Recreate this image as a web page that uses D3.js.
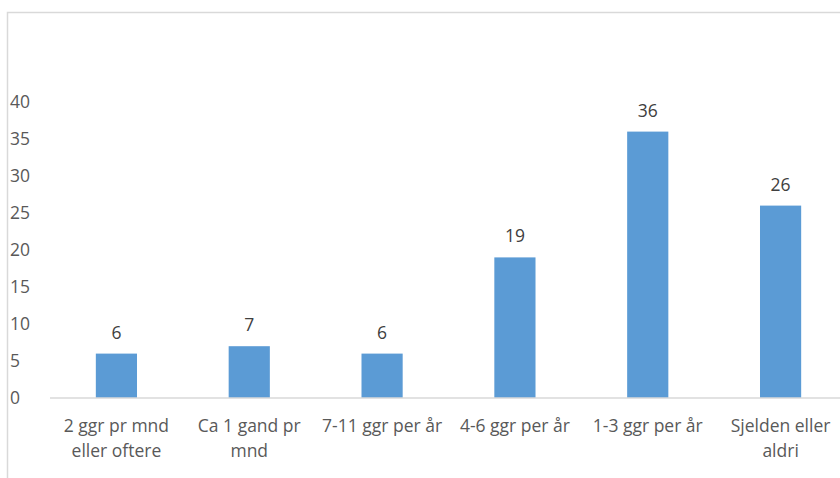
<!DOCTYPE html>
<html>
<head>
<meta charset="utf-8">
<script src="https://cdn.jsdelivr.net/npm/d3@7"></script>
<style>
  html, body { margin: 0; padding: 0; background: #fff; }
  svg { display: block; }
  text { font-family: "Open Sans", "Noto Sans", sans-serif; }
</style>
</head>
<body>
<svg id="chart" width="840" height="478"></svg>
<script>
// Frequency categories and their counts
const categories = [
  "2 ggr pr mnd eller oftere",
  "Ca 1 gand pr mnd",
  "7-11 ggr per år",
  "4-6 ggr per år",
  "1-3 ggr per år",
  "Sjelden eller aldri"
];
const values = [6, 7, 6, 19, 36, 26];
const yTicks = [0, 5, 10, 15, 20, 25, 30, 35, 40];

const W = 840, H = 478;
const margin = { left: 50, right: -7, top: 102, bottom: 80 };
const fontSize = "17.5px";

const svg = d3.select("#chart");

// Chart area frame
svg.append("rect")
  .attr("x", 7.5).attr("y", 12.5)
  .attr("width", 900).attr("height", 600)
  .attr("fill", "#fff")
  .attr("stroke", "#d9d9d9")
  .attr("stroke-width", 1.5);

const x = d3.scaleBand()
  .domain(categories)
  .range([margin.left, W - margin.right])
  .padding(0);

const y = d3.scaleLinear()
  .domain([0, 40])
  .range([H - margin.bottom, margin.top]);

const barW = x.bandwidth() * 0.31;

// Y axis labels (no axis line)
const yAxis = d3.axisLeft(y).tickValues(yTicks).tickSize(0).tickPadding(0);
const gy = svg.append("g").attr("transform", "translate(10,0)").call(yAxis);
gy.select(".domain").remove();
gy.selectAll("text")
  .attr("text-anchor", "start")
  .attr("x", 0)
  .attr("fill", "#595959")
  .style("font-size", fontSize)
  .style("font-family", "'Open Sans', sans-serif");

// Bars
svg.append("g").selectAll("rect")
  .data(values)
  .join("rect")
  .attr("x", (d, i) => x(categories[i]) + x.bandwidth() / 2 - barW / 2)
  .attr("y", d => y(d))
  .attr("width", barW)
  .attr("height", d => y(0) - y(d))
  .attr("fill", "#5b9bd5");

// Baseline
svg.append("line")
  .attr("x1", margin.left).attr("x2", W)
  .attr("y1", y(0)).attr("y2", y(0))
  .attr("stroke", "#d9d9d9")
  .attr("stroke-width", 1.5);

// Value labels
svg.append("g").selectAll("text")
  .data(values)
  .join("text")
  .attr("x", (d, i) => x(categories[i]) + x.bandwidth() / 2)
  .attr("y", d => y(d) - 15)
  .attr("text-anchor", "middle")
  .attr("fill", "#404040")
  .style("font-size", fontSize)
  .text(d => d);

// Category labels with word wrapping
const xAxis = d3.axisBottom(x).tickSize(0).tickPadding(0);
const gx = svg.append("g").attr("transform", `translate(0,${y(0)})`).call(xAxis);
gx.select(".domain").remove();
gx.selectAll("text")
  .attr("fill", "#595959")
  .style("font-size", fontSize)
  .style("font-family", "'Open Sans', sans-serif")
  .attr("y", 0)
  .attr("dy", null)
  .each(function(d) {
    const t = d3.select(this);
    const words = d.split(" ");
    t.text(null);
    const maxW = 124;
    let lines = [], line = [];
    let tspan = t.append("tspan");
    for (const w of words) {
      line.push(w);
      tspan.text(line.join(" "));
      if (tspan.node().getComputedTextLength() > maxW && line.length > 1) {
        line.pop();
        lines.push(line.join(" "));
        line = [w];
      }
    }
    lines.push(line.join(" "));
    t.text(null);
    lines.forEach((l, i) => {
      t.append("tspan")
        .attr("x", 0)
        .attr("y", 34 + i * 25)
        .text(l);
    });
  });
</script>
</body>
</html>
